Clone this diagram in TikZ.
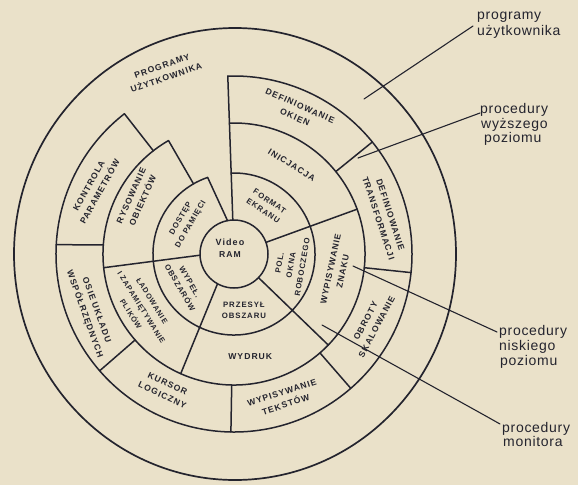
\documentclass[tikz,border=0pt]{standalone}
\usepackage{fontspec}
\setmainfont{Liberation Sans}
\newfontfamily\ringfont[LetterSpace=12]{Liberation Sans}
\newfontfamily\lblfont[LetterSpace=5]{Liberation Sans}
\definecolor{paper}{RGB}{234,225,201}
\definecolor{ink}{RGB}{36,36,46}
\begin{document}
\begin{tikzpicture}[x=1pt,y=1pt,line cap=round,line join=round,
  ring/.style={draw=ink,line width=1.5pt},
  rtxt/.style={font=\ringfont\bfseries\fontsize{8.6}{12.5}\selectfont,text=ink,align=center,inner sep=0pt},
  stxt/.style={font=\ringfont\bfseries\fontsize{7.8}{11.5}\selectfont,text=ink,align=center,inner sep=0pt},
  ltxt/.style={font=\lblfont\fontsize{14}{15}\selectfont,text=ink,anchor=base west,inner sep=0pt},
  leader/.style={draw=ink,line width=1.1pt}]
\fill[paper] (0,0) rectangle (578,-485);
\useasboundingbox (0,0) rectangle (578,-485);
\begin{scope}[shift={(234,-254)}]
  % circles and arcs
  \draw[ring] (0,0) circle[radius=34];
  \draw[ring] (109:81) arc[start angle=109,end angle=452,radius=81];
  \draw[ring] (120:131) arc[start angle=120,end angle=452,radius=131];
  \draw[ring] (128:178) arc[start angle=128,end angle=452,radius=178];
  \draw[ring,line width=1.7pt] (1,0) circle[x radius=221,y radius=226];
  % radial dividers
  \draw[ring] (92:34) -- (92:178);
  \draw[ring] (101:34) -- (109:81);
  \draw[ring] (120:81) -- (120:131);
  \draw[ring] (128:131) -- (128:178);
  \draw[ring] (20:34) -- (20:131);
  \draw[ring] (39:131) -- (39:178);
  \draw[ring] (-6:131) -- (-6:178);
  \draw[ring] (-44:34) -- (-44:131);
  \draw[ring] (-49:131) -- (-49:178);
  \draw[ring] (-91:131) -- (-91:178);
  \draw[ring] (-119:34) -- (-114:131);
  \draw[ring] (-139:131) -- (-139:178);
  \draw[ring] (182:34) -- (186:131);
  \draw[ring] (176:131) -- (177:178);
  % texts
  \node[rtxt] (vram) at (-4,6) {\fontsize{9}{13}\selectfont Video\\RAM};
  \node[stxt,rotate=-34] (fmt) at (56:58) {FORMAT\\EKRANU};
  \node[stxt,rotate=80] (pol) at (-11:58) {POL.\\OKNA\\ROBOCZEGO};
  \node[stxt] (prz) at (-80:57) {PRZESYŁ\\OBSZARU};
  \node[stxt,rotate=-60] (wyp) at (-148:58) {WYPEŁ.\\OBSZARÓW};
  \node[stxt,rotate=60] (dos) at (146:58) {DOSTĘP\\DO PAMIĘCI};
  \node[rtxt,rotate=-32] (ini) at (57:106) {INICJACJA};
  \node[rtxt,rotate=78] (wzn) at (-9:104) {WYPISYWANIE\\ZNAKU};
  \node[rtxt] (wyd) at (-81:104) {WYDRUK};
  \node[stxt,rotate=-58,font=\ringfont\bfseries\fontsize{7.4}{12.5}\selectfont] (lad) at (-150:107) {ŁADOWANIE\\I ZAPAMIĘTYWANIE\\PLIKÓW};
  \node[rtxt,rotate=66] (rys) at (150:112) {RYSOWANIE\\OBIEKTÓW};
  \node[rtxt,rotate=-24] (dok) at (66:156) {DEFINIOWANIE\\OKIEN};
  \node[rtxt,rotate=-72] (dtr) at (14:155) {DEFINIOWANIE\\TRANSFORMACJI};
  \node[rtxt,rotate=62] (obr) at (-27:154) {OBROTY\\SKALOWANIE};
  \node[rtxt,rotate=18] (wte) at (-71:153) {WYPISYWANIE\\TEKSTÓW};
  \node[rtxt,rotate=-25] (kur) at (-117:152) {KURSOR\\LOGICZNY};
  \node[rtxt,rotate=-70] (osi) at (-158:155) {OSIE UKŁADU\\WSPÓŁRZĘDNYCH};
  \node[rtxt,rotate=61] (kon) at (155:154) {KONTROLA\\PARAMETRÓW};
  \node[rtxt,rotate=19] (pro) at (111:195) {PROGRAMY\\UŻYTKOWNIKA};
\end{scope}
% outside labels
\node[ltxt] (lPa) at (477,-19) {programy};
\node[ltxt] (lPb) at (477,-35) {użytkownika};
\node[ltxt] (lWa) at (480,-113) {procedury};
\node[ltxt] (lWb) at (481,-128) {wyższego};
\node[ltxt] (lWc) at (484,-142) {poziomu};
\node[ltxt] (lNa) at (499,-335) {procedury};
\node[ltxt] (lNb) at (499,-350) {niskiego};
\node[ltxt] (lNc) at (500,-365) {poziomu};
\node[ltxt] (lMa) at (502,-432) {procedury};
\node[ltxt] (lMb) at (503,-446) {monitora};
% leaders
\coordinate (sP) at (364,-99);  \coordinate (eP) at (473,-26);
\coordinate (sW) at (358,-158); \coordinate (eW) at (480,-113);
\coordinate (sN) at (353,-266); \coordinate (eN) at (497,-332);
\coordinate (sM) at (322,-325); \coordinate (kM) at (484,-415); \coordinate (eM) at (500,-424);
\draw[leader] (sP) -- (eP);
\draw[leader] (sW) -- (eW);
\draw[leader] (sN) -- (eN);
\draw[leader] (sM) -- (kM) -- (eM);
\end{tikzpicture}
\end{document}
